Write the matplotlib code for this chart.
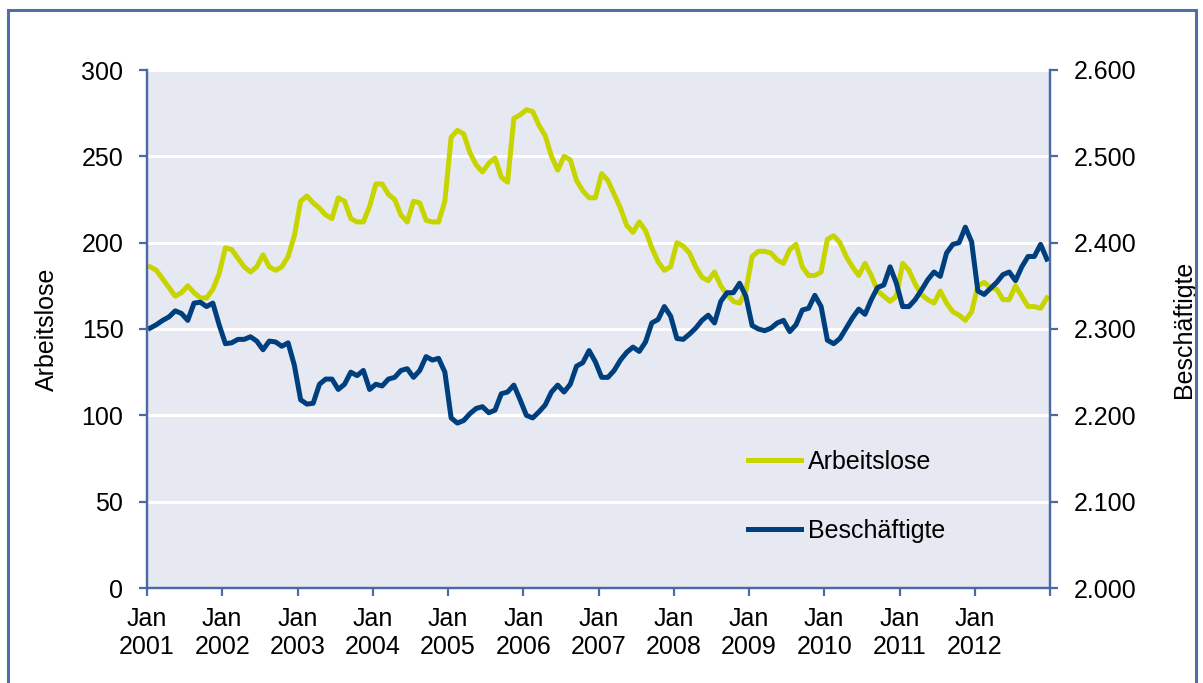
import matplotlib
matplotlib.use('Agg')
import matplotlib.pyplot as plt
from matplotlib.patches import Rectangle
from matplotlib.ticker import FuncFormatter, FixedLocator
import numpy as np

plt.rcParams['font.family'] = ['Liberation Sans', 'DejaVu Sans']

years = [str(y) for y in range(2001, 2013)]
tick_labels = ['Jan\n' + y for y in years]

arbeitslose = [
    186, 184, 179, 174, 169, 171, 175, 171, 168, 168, 173, 182,
    197, 196, 191, 186, 183, 186, 193, 186, 184, 186, 192, 204,
    224, 227, 223, 220, 216, 214, 226, 224, 214, 212, 212, 221,
    234, 234, 228, 225, 216, 212, 224, 223, 213, 212, 212, 224,
    261, 265, 263, 252, 245, 241, 246, 249, 238, 235, 272, 274,
    277, 276, 268, 262, 250, 242, 250, 248, 236, 230, 226, 226,
    240, 236, 228, 220, 210, 206, 212, 207, 197, 189, 184, 186,
    200, 198, 194, 186, 180, 178, 183, 175, 170, 166, 165, 172,
    192, 195, 195, 194, 190, 188, 196, 199, 186, 181, 181, 183,
    202, 204, 200, 192, 186, 181, 188, 181, 172, 169, 166, 169,
    188, 184, 176, 170, 167, 165, 172, 165, 160, 158, 155, 160,
    175, 177, 174, 173, 167, 167, 175, 169, 163, 163, 162, 168,
]

beschaeftigte = [
    2301, 2305, 2310, 2314, 2321, 2318, 2310, 2330, 2331, 2326, 2330, 2305,
    2283, 2284, 2288, 2288, 2291, 2286, 2276, 2286, 2285, 2280, 2284, 2258,
    2218, 2213, 2214, 2236, 2242, 2242, 2230, 2236, 2250, 2246, 2252, 2230,
    2236, 2234, 2242, 2244, 2252, 2254, 2244, 2252, 2268, 2264, 2266, 2250,
    2197, 2191, 2194, 2202, 2208, 2210, 2203, 2206, 2225, 2227, 2235, 2218,
    2200, 2197, 2204, 2212, 2227, 2235, 2227, 2236, 2257, 2261, 2275, 2262,
    2244, 2244, 2252, 2264, 2273, 2279, 2274, 2285, 2307, 2311, 2326, 2315,
    2289, 2288, 2294, 2301, 2310, 2316, 2307, 2332, 2342, 2342, 2353, 2338,
    2304, 2300, 2298, 2301, 2307, 2310, 2297, 2305, 2322, 2324, 2339, 2326,
    2287, 2283, 2289, 2301, 2313, 2323, 2317, 2334, 2348, 2351, 2372, 2353,
    2326, 2326, 2334, 2345, 2357, 2366, 2361, 2388, 2398, 2400, 2418, 2401,
    2344, 2340, 2347, 2354, 2363, 2366, 2356, 2372, 2384, 2384, 2398, 2381,
]

left_ticks = [0, 50, 100, 150, 200, 250, 300]
right_ticks = [2000, 2100, 2200, 2300, 2400, 2500, 2600]

YELLOW = '#C8D400'
NAVY = '#003F7D'
AXC = '#4A6AA6'
BG = '#E6E9F1'
FS = 18

W, H = 1203, 683
fig = plt.figure(figsize=(W / 100, H / 100), dpi=100)

# outer frame
fig.patches.append(Rectangle((8 / W, -0.05), (1196 - 8) / W, 1.05 - 10 / H,
                             transform=fig.transFigure, fill=False,
                             edgecolor='#4F6FA8', linewidth=2.2))

L, R, T, B = 147, 1050, 70, 588
ax = fig.add_axes([L / W, 1 - B / H, (R - L) / W, (B - T) / H])
ax.set_facecolor(BG)
x = np.arange(len(arbeitslose)) + 0.5

ax.set_xlim(0, 144)
ax.set_ylim(0, 300)
ax.yaxis.set_major_locator(FixedLocator(left_ticks))
ax.xaxis.set_major_locator(FixedLocator(list(range(0, 145, 12))))
ax.set_xticklabels(tick_labels + [''])
ax.grid(axis='y', color='white', linewidth=2.2)
ax.set_axisbelow(True)

ln1, = ax.plot(x, arbeitslose, color=YELLOW, linewidth=3.6, solid_joinstyle='round',
               label='Arbeitslose')

ax2 = ax.twinx()
ax2.set_ylim(2000, 2600)
ax2.yaxis.set_major_locator(FixedLocator(right_ticks))
ax2.yaxis.set_major_formatter(FuncFormatter(lambda v, p: f"{int(v):,}".replace(',', '.')))
ln2, = ax2.plot(x, beschaeftigte, color=NAVY, linewidth=3.6, solid_joinstyle='round',
                label='Beschäftigte')

for a in (ax, ax2):
    a.spines['top'].set_visible(False)
    for s in ('left', 'right', 'bottom'):
        a.spines[s].set_color(AXC)
        a.spines[s].set_linewidth(1.6)
    a.tick_params(colors=AXC, labelcolor='black', labelsize=FS, length=6,
                  width=1.6, direction='out')
ax.tick_params(axis='y', pad=11)
ax.tick_params(axis='x', pad=8)
ax2.tick_params(axis='y', pad=11)

ax.set_ylabel('Arbeitslose', fontsize=FS, labelpad=16)
ax2.set_ylabel('Beschäftigte', fontsize=FS, labelpad=26, rotation=90)

fig.legend(handles=[ln1, ln2], loc='center left',
           bbox_to_anchor=(748 / W, 1 - 496.5 / H), frameon=False,
           fontsize=FS, handlelength=2.1, handletextpad=0.3,
           labelspacing=1.8, borderpad=0, borderaxespad=0)

fig.savefig('out.png', dpi=100)
